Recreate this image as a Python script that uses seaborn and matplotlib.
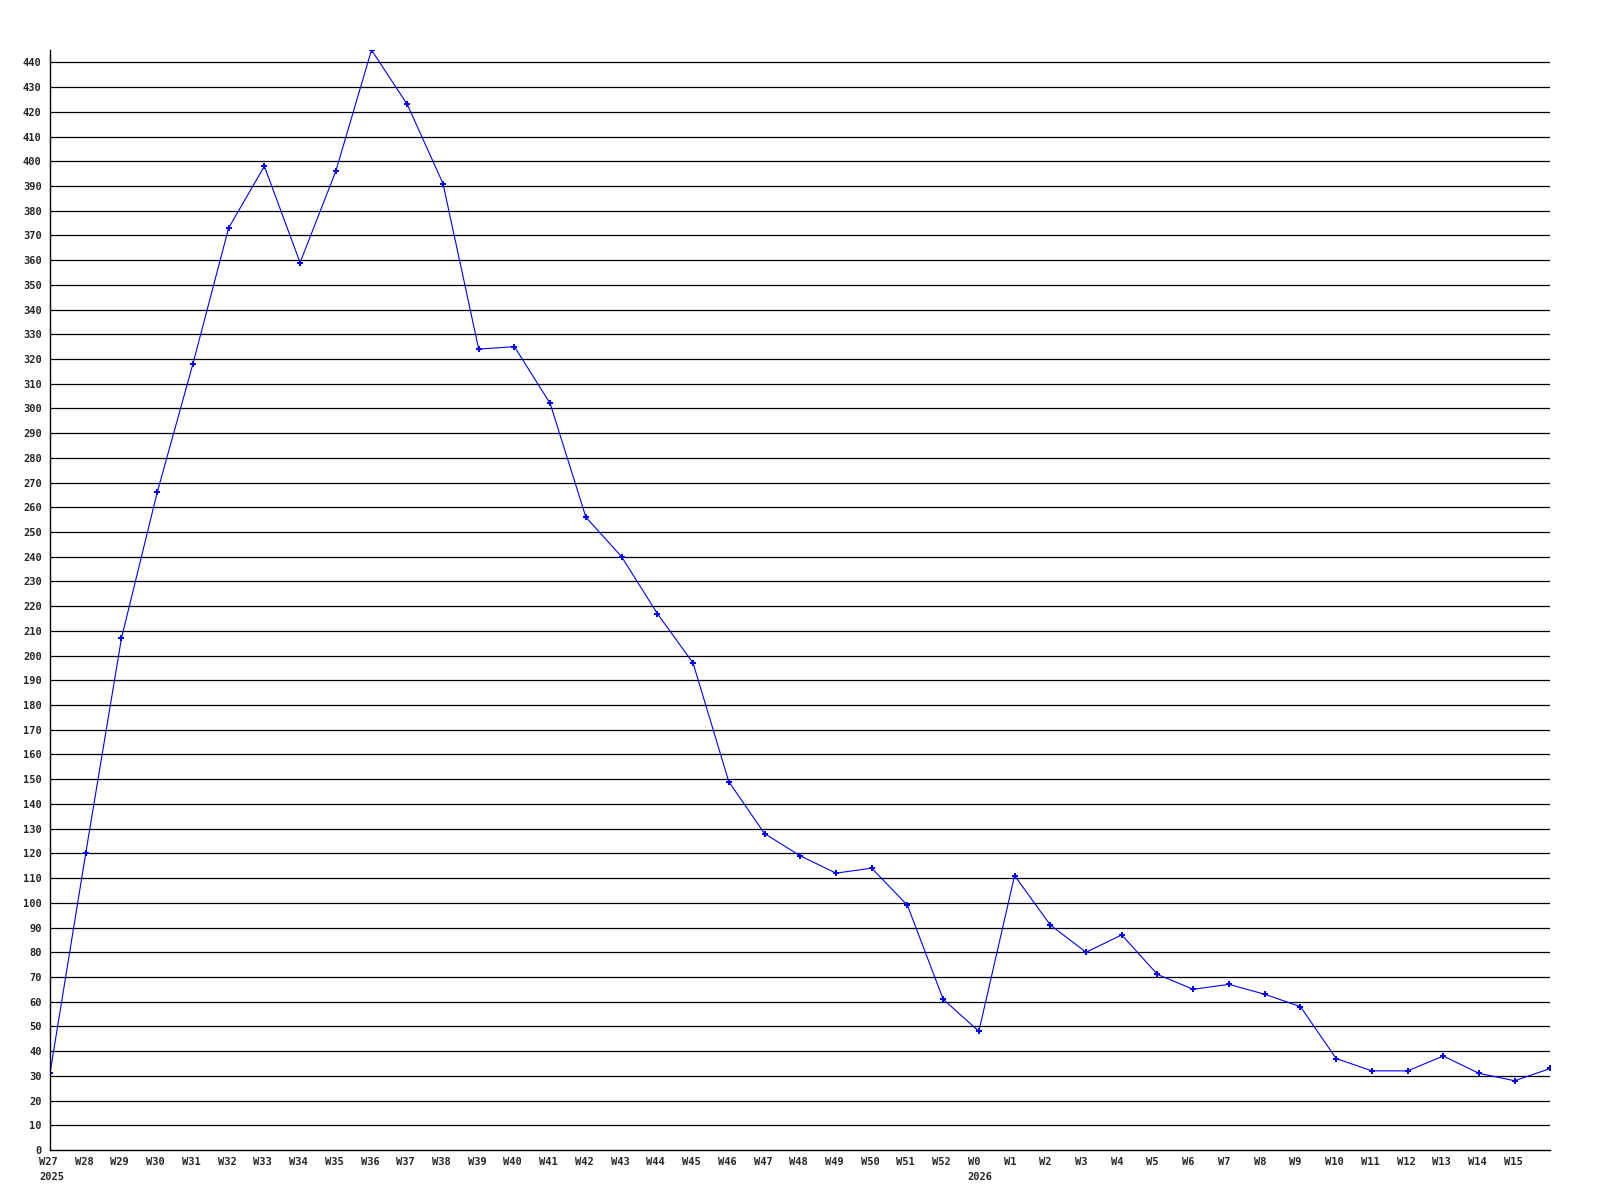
import numpy as np
import pandas as pd
import matplotlib
matplotlib.use('Agg')
import matplotlib.pyplot as plt
import matplotlib.transforms as mtransforms
import seaborn as sns

# weekly counts, W27 2025 .. W16 2026
weeks = ['W27', 'W28', 'W29', 'W30', 'W31', 'W32', 'W33', 'W34', 'W35', 'W36',
         'W37', 'W38', 'W39', 'W40', 'W41', 'W42', 'W43', 'W44', 'W45', 'W46',
         'W47', 'W48', 'W49', 'W50', 'W51', 'W52', 'W0', 'W1', 'W2', 'W3',
         'W4', 'W5', 'W6', 'W7', 'W8', 'W9', 'W10', 'W11', 'W12', 'W13',
         'W14', 'W15', 'W16']
counts = [31, 120, 207, 266, 318, 373, 398, 359, 396, 445,
          423, 391, 324, 325, 302, 256, 240, 217, 197, 149,
          128, 119, 112, 114, 99, 61, 48, 111, 91, 80,
          87, 71, 65, 67, 63, 58, 37, 32, 32, 38,
          31, 28, 33]
year_marks = {'W27': '2025', 'W0': '2026'}

df = pd.DataFrame({'idx': range(len(weeks)), 'week': weeks, 'count': counts})

sns.set_theme(style='white')
plt.rcParams['font.family'] = ['DejaVu Sans Mono']

fig = plt.figure(figsize=(16, 12), dpi=100)
ax = fig.add_axes([0.03125, 0.0417, 0.9378, 0.9166])

sns.lineplot(data=df, x='idx', y='count', color='#0000ff', linewidth=0.8,
             marker='P', markersize=4, markeredgewidth=0, ax=ax)

# horizontal grid every 10
ax.set_yticks(np.arange(0, 450, 10))
for v in np.arange(10, 450, 10):
    ax.axhline(v, color='black', linewidth=0.9, zorder=0)

ax.set_ylim(0, max(counts))
ax.set_xlim(0, len(weeks) - 1)

# x labels drawn by hand: left edge a little left of the tick
ax.set_xticks([])
base = ax.get_xaxis_transform()
off = mtransforms.offset_copy(base, fig=fig, x=-11, y=-7, units='dots')
for i, w in enumerate(weeks[:-1]):
    txt = w + '\n' + year_marks[w] if w in year_marks else w
    ax.text(i, 0, txt, transform=off, ha='left', va='top',
            fontsize=7.5, fontweight='bold', linespacing=1.6)

for lab in ax.get_yticklabels():
    lab.set_fontsize(7.5)
    lab.set_fontweight('bold')

ax.tick_params(axis='both', length=0, pad=6)
ax.set_xlabel('')
ax.set_ylabel('')
for s in ['top', 'right']:
    ax.spines[s].set_visible(False)
for s in ['left', 'bottom']:
    ax.spines[s].set_color('black')
    ax.spines[s].set_linewidth(1.0)
ax.spines['left'].set_bounds(0, max(counts))

fig.savefig('out.png', dpi=100)
